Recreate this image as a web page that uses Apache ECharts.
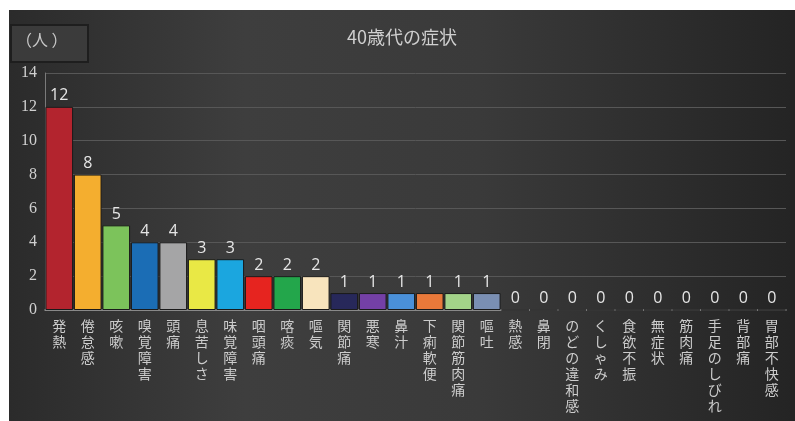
<!DOCTYPE html>
<html>
<head>
<meta charset="utf-8">
<script src="https://cdn.jsdelivr.net/npm/echarts@6/dist/echarts.min.js"></script>
<style>
html,body{margin:0;padding:0;background:#fff;width:795px;height:421px;overflow:hidden;}
#chart{position:absolute;left:9px;top:10px;width:786px;height:411px;}
</style>
</head>
<body>
<div id="chart"></div>
<script>
const title = '40歳代の症状';
const unitLabel = '（人 ）';
const categories = ['発熱','倦怠感','咳嗽','嗅覚障害','頭痛','息苦しさ','味覚障害','咽頭痛','喀痰','嘔気','関節痛','悪寒','鼻汁','下痢軟便','関節筋肉痛','嘔吐','熱感','鼻閉','のどの違和感','くしゃみ','食欲不振','無症状','筋肉痛','手足のしびれ','背部痛','胃部不快感'];
const values = [12,8,5,4,4,3,3,2,2,2,1,1,1,1,1,1,0,0,0,0,0,0,0,0,0,0];
const barColors = ['#b3242e','#f4ae2f','#7cc35b','#1b6db5','#a5a5a6','#e9e845','#1ba6df','#e6241f','#23a64b','#f8e4bd','#27285a','#7440a6','#4a90d9','#e9793a','#a3d389','#7a8fb3','#888','#888','#888','#888','#888','#888','#888','#888','#888','#888'];
const yTicks = {min:0, max:14, interval:2};

const chart = echarts.init(document.getElementById('chart'));
chart.setOption({
  backgroundColor: {
    type:'linear', x:0, y:0, x2:1, y2:0,
    colorStops:[{offset:0,color:'#2b2b2b'},{offset:0.3,color:'#3e3e3e'},{offset:0.6,color:'#3a3a3a'},{offset:1,color:'#242424'}]
  },
  animation:false,
  title:{
    text:title, left:'center', top:13,
    textStyle:{color:'#cfcfcf', fontSize:18, fontWeight:'normal', fontFamily:'"Noto Sans CJK JP", sans-serif'}
  },
  graphic:[
    {type:'rect', left:1, top:14, shape:{width:77, height:37}, style:{fill:'#3b3b3b', stroke:'#1e1e1e', lineWidth:2}},
    {type:'text', left:7, top:22, style:{text:unitLabel, fill:'#c8c8c8', fontSize:16, fontFamily:'"Noto Sans CJK JP", sans-serif'}}
  ],
  grid:{left:36, right:9, top:63, bottom:111, containLabel:false},
  xAxis:{
    type:'category', data:categories,
    axisLine:{lineStyle:{color:'#9a9a9a', width:1.5}},
    axisTick:{show:false},
    axisLabel:{
      interval:0, margin:8, color:'#cccccc', fontSize:14, lineHeight:16,
      fontFamily:'"Noto Sans CJK JP", serif',
      formatter: v => v.split('').join('\n')
    }
  },
  yAxis:{
    type:'value', min:yTicks.min, max:yTicks.max, interval:yTicks.interval,
    axisLine:{show:true, lineStyle:{color:'#7a7a7a'}},
    axisTick:{show:false},
    splitLine:{lineStyle:{color:'#575757'}},
    axisLabel:{color:'#d0d0d0', fontSize:16, margin:8, fontFamily:'"Liberation Serif", serif'}
  },
  series:[{
    type:'bar',
    data: values.map((v,i)=>({value:v, itemStyle:{color:barColors[i]}})),
    barCategoryGap:'3%',
    itemStyle:{borderColor:'#1a1a1a', borderWidth:1},
    label:{show:true, position:'top', distance:3, color:'#e6e6e6', fontSize:16, fontFamily:'"Open Sans", sans-serif'}
  }]
});
</script>
</body>
</html>
